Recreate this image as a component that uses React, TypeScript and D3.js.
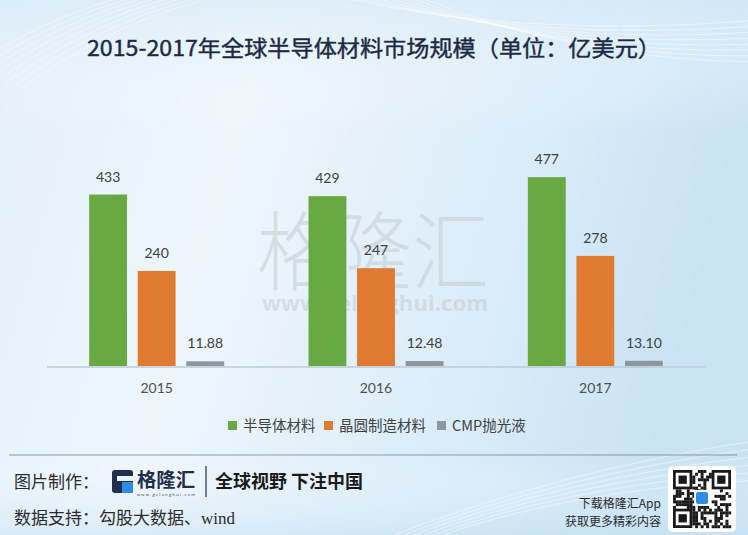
import React, { useEffect } from "react";
import * as d3 from "d3";

const years = ["2015", "2016", "2017"];
const seriesNames = ["半导体材料", "晶圆制造材料", "CMP抛光液"];
const semiconductor = [433, 429, 477];
const wafer = [240, 247, 278];
const cmp = [11.88, 12.48, 13.1];
const valueLabels = [
  ["433", "429", "477"],
  ["240", "247", "278"],
  ["11.88", "12.48", "13.10"],
];
const colors = ["#69a944", "#e07a30", "#8e979f"];

const W = 748;
const H = 535;

function qrCells(n: number) {
  const cells: [number, number][] = [];
  for (let r = 0; r < n; r++) {
    for (let c = 0; c < n; c++) {
      const inFinder =
        (r < 7 && c < 7) || (r < 7 && c >= n - 7) || (r >= n - 7 && c < 7);
      if (inFinder) continue;
      const h = Math.sin(r * 12.9898 + c * 78.233) * 43758.5453;
      if (h - Math.floor(h) > 0.5) cells.push([r, c]);
    }
  }
  return cells;
}

export default function App() {
  useEffect(() => {
    document.body.style.margin = "0";
  }, []);

  const series = [semiconductor, wafer, cmp];
  const x0 = d3.scaleBand<string>().domain(years).range([47, 705]);
  const x1 = d3
    .scaleBand<string>()
    .domain(seriesNames)
    .range([0, 135])
    .paddingInner(0.22);
  const y = d3.scaleLinear().domain([0, 500]).range([366, 168]);
  const groupStart = (yr: string) =>
    (x0(yr) as number) + x0.bandwidth() / 2 - 67.5;

  const qrN = 21;
  const qrSize = 58;
  const cs = qrSize / qrN;
  const cells = qrCells(qrN);

  const font = "'Noto Sans CJK SC', 'Noto Sans', sans-serif";
  const numFont = "Lato, 'Open Sans', sans-serif";

  return (
    <svg
      width={W}
      height={H}
      style={{ position: "absolute", left: 0, top: 0, display: "block" }}
    >
      <defs>
        <linearGradient id="bg" x1="0" y1="0" x2="1" y2="0.2">
          <stop offset="0" stopColor="#e3f0fa" />
          <stop offset="0.35" stopColor="#eef6fc" />
          <stop offset="0.7" stopColor="#dcedf9" />
          <stop offset="1" stopColor="#c9e3f5" />
        </linearGradient>
        <linearGradient id="bgv" x1="0" y1="0" x2="0" y2="1">
          <stop offset="0" stopColor="#d6e9f7" stopOpacity="0.6" />
          <stop offset="0.25" stopColor="#ffffff" stopOpacity="0" />
          <stop offset="0.85" stopColor="#ffffff" stopOpacity="0" />
          <stop offset="1" stopColor="#c5e0f3" stopOpacity="0.5" />
        </linearGradient>
      </defs>
      <rect x={0} y={0} width={W} height={H} fill="url(#bg)" />
      <rect x={0} y={0} width={W} height={H} fill="url(#bgv)" />

      {/* decorative lines */}
      <g stroke="#ffffff" strokeOpacity={0.55} fill="none" strokeWidth={0.8}>
        {d3.range(0, 8).map((i) => (
          <path
            key={"l" + i}
            d={`M${-20 + i * 6},${60 + i * 4} Q${60 + i * 10},${10} ${
              150 + i * 14
            },${-10}`}
          />
        ))}
        {d3.range(0, 8).map((i) => (
          <path
            key={"r" + i}
            d={`M${330 + i * 12},${-5} Q${520 + i * 8},${40 + i * 3} ${760},${
              20 + i * 6
            }`}
          />
        ))}
        {d3.range(0, 6).map((i) => (
          <path
            key={"b" + i}
            d={`M${380 + i * 10},${540} Q${560},${470 + i * 4} ${760},${
              440 + i * 8
            }`}
          />
        ))}
      </g>

      {/* title */}
      <text
        x={W / 2}
        y={56}
        textAnchor="middle"
        fontFamily={font}
        fontSize={22}
        fontWeight={400}
        fill="#1d2a44"
        stroke="#1d2a44"
        strokeWidth={0.4}
        textLength={574}
        lengthAdjust="spacingAndGlyphs"
      >
        2015-2017年全球半导体材料市场规模（单位：亿美元）
      </text>

      {/* watermark */}
      <g fill="#bfc3c6" fillOpacity={0.45}>
        <text
          x={373}
          y={284}
          textAnchor="middle"
          fontFamily={font}
          fontSize={86}
          fontWeight={300}
          textLength={232}
          lengthAdjust="spacingAndGlyphs"
        >
          格隆汇
        </text>
        <text
          x={375}
          y={311}
          textAnchor="middle"
          fontFamily="'Open Sans', sans-serif"
          fontSize={21}
          fontWeight={700}
          textLength={226}
          lengthAdjust="spacingAndGlyphs"
        >
          www.gelonghui.com
        </text>
      </g>

      {/* axis line */}
      <line x1={47} x2={705} y1={367} y2={367} stroke="#bccad6" strokeWidth={1.5} />

      {/* bars */}
      {years.map((yr, gi) => (
        <g key={yr} transform={`translate(${groupStart(yr)},0)`}>
          {series.map((s, si) => {
            const bx = x1(seriesNames[si]) as number;
            const top = y(s[gi]);
            return (
              <g key={si}>
                <rect
                  x={bx}
                  y={top}
                  width={x1.bandwidth()}
                  height={y(0) - top}
                  fill={colors[si]}
                />
                <text
                  x={bx + x1.bandwidth() / 2}
                  y={top - 13}
                  textAnchor="middle"
                  fontFamily={numFont}
                  fontSize={14}
                  fill="#404040"
                >
                  {valueLabels[si][gi]}
                </text>
              </g>
            );
          })}
          <text
            x={67.5}
            y={393}
            textAnchor="middle"
            fontFamily={numFont}
            fontSize={14}
            fill="#505050"
          >
            {yr}
          </text>
        </g>
      ))}

      {/* legend */}
      {[
        { x: 228, tx: 243 },
        { x: 324, tx: 339 },
        { x: 437, tx: 452 },
      ].map((l, i) => (
        <g key={i}>
          <rect x={l.x} y={421} width={9} height={9} fill={colors[i]} />
          <text
            x={l.tx}
            y={431}
            fontFamily={font}
            fontSize={14.5}
            fill="#404040"
          >
            {seriesNames[i]}
          </text>
        </g>
      ))}

      {/* footer */}
      <line x1={9} x2={737} y1={455} y2={455} stroke="#8798ad" strokeWidth={1.2} />
      <text x={14} y={488} fontFamily={font} fontSize={17} fill="#2b2b2b">
        图片制作：
      </text>
      <text x={14} y={524} fontFamily={font} fontSize={17} fill="#2b2b2b">
        数据支持：勾股大数据、
        <tspan fontFamily="'Liberation Serif', 'DejaVu Serif', serif" fontSize={17}>
          wind
        </tspan>
      </text>

      {/* logo */}
      <g>
        <rect x={112} y={470} width={21} height={23} rx={3} fill="#1f2f4d" />
        <rect x={117} y={476} width={16} height={5} fill="#e8f3fb" />
        <rect x={122} y={482} width={11} height={11} fill="#2e8be6" />
        <rect x={117} y={481} width={5} height={7} fill="#1f2f4d" />
        <text
          x={137}
          y={487}
          fontFamily={font}
          fontSize={19}
          fontWeight={700}
          fill="#1f2f4d"
          textLength={58}
          lengthAdjust="spacingAndGlyphs"
        >
          格隆汇
        </text>
        <text
          x={137}
          y={496}
          fontFamily="'Open Sans', sans-serif"
          fontSize={4}
          fill="#1f2f4d"
          textLength={58}
        >
          www.gelonghui.com
        </text>
        <line x1={206} x2={206} y1={466} y2={497} stroke="#1f2f4d" strokeWidth={1.2} />
        <text
          x={215}
          y={488}
          fontFamily={font}
          fontSize={18}
          fontWeight={700}
          fill="#1a1a1a"
          textLength={148}
          lengthAdjust="spacingAndGlyphs"
        >
          全球视野 下注中国
        </text>
      </g>

      <text x={661} y={508} textAnchor="end" fontFamily={font} fontSize={12} fill="#2b2b2b">
        下载格隆汇App
      </text>
      <text x={661} y={526} textAnchor="end" fontFamily={font} fontSize={12} fill="#2b2b2b">
        获取更多精彩内容
      </text>

      {/* QR */}
      <g>
        <rect x={668} y={466} width={68} height={66} rx={5} fill="#ffffff" />
        <g transform={`translate(${673},${470})`}>
          {cells.map(([r, c], i) => (
            <rect key={i} x={c * cs} y={r * cs} width={cs + 0.2} height={cs + 0.2} fill="#1a1a1a" />
          ))}
          {[
            [0, 0],
            [0, qrN - 7],
            [qrN - 7, 0],
          ].map(([r, c], i) => (
            <g key={"f" + i}>
              <rect x={c * cs} y={r * cs} width={7 * cs} height={7 * cs} fill="#1a1a1a" />
              <rect x={(c + 1) * cs} y={(r + 1) * cs} width={5 * cs} height={5 * cs} fill="#fff" />
              <rect x={(c + 2) * cs} y={(r + 2) * cs} width={3 * cs} height={3 * cs} fill="#1a1a1a" />
            </g>
          ))}
          <rect x={qrSize / 2 - 8} y={qrSize / 2 - 9} width={16} height={16} rx={2} fill="#fff" />
          <rect x={qrSize / 2 - 6} y={qrSize / 2 - 7} width={12} height={12} rx={2} fill="#2e8be6" />
        </g>
      </g>
    </svg>
  );
}
